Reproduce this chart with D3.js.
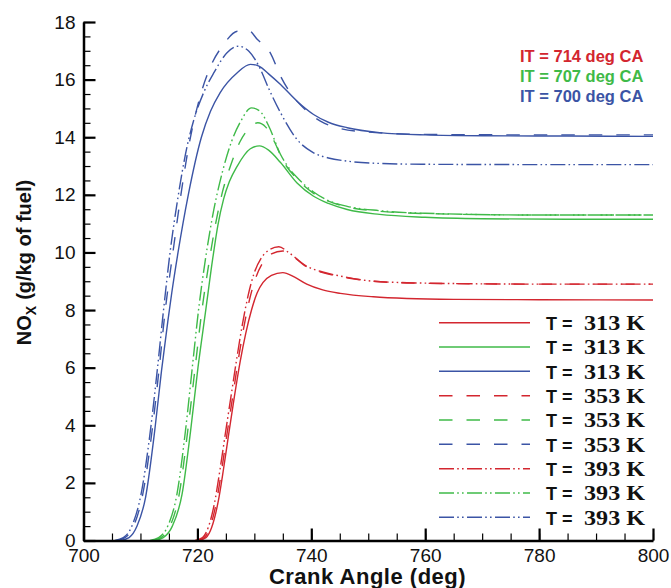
<!DOCTYPE html>
<html>
<head>
<meta charset="utf-8">
<script src="https://cdn.jsdelivr.net/npm/d3@7"></script>
<style>
  html, body { margin: 0; padding: 0; background: #fff; }
  svg { display: block; }
</style>
</head>
<body>
<svg id="chart" width="671" height="588"></svg>
<script>
// ---------- data (crank angle [deg], NOx [g/kg of fuel]) ----------
// IT = 714 deg CA (red)
const red313x = [720.2,721.5,722.5,723.7,724.6,725.5,726.5,727.5,728.5,729.5,730.5,731.5,733,735,737,739.2,742,745.1,750.9,756.8,765,780,800];
const red313y = [0,0.1,0.45,1.4,2.5,3.7,5.0,6.2,7.2,8.0,8.6,8.95,9.2,9.3,9.15,8.9,8.7,8.58,8.46,8.4,8.37,8.36,8.35];
const red353x = [719.9,721.2,722.2,723.4,724.3,725.2,726.2,727.2,728.2,729.2,730.3,731.5,733,735,736.5,739.2,742,745.1,750.9,756.8,765,780,800];
const red353y = [0,0.1,0.45,1.4,2.5,3.7,5.0,6.3,7.45,8.4,9.15,9.65,9.95,10.05,9.9,9.5,9.3,9.16,9.0,8.94,8.92,8.9,8.9];
const red393x = [719.6,720.9,721.9,723.1,724,724.9,725.9,726.9,727.9,728.9,730,731.2,732.7,734.3,736,739.2,742,745.1,750.9,756.8,765,780,800];
const red393y = [0,0.1,0.45,1.4,2.5,3.7,5.0,6.3,7.5,8.5,9.3,9.8,10.1,10.2,10.0,9.52,9.32,9.18,9.0,8.95,8.92,8.9,8.9];
// IT = 707 deg CA (green)
const green313x = [712.5,714,715.6,717.3,718.8,720.1,721.4,722.7,723.6,724.6,725.6,727,729.3,730.9,732.5,734.6,737.5,740.4,743,746.3,752,760,770,785,800];
const green313y = [0,0.1,0.5,1.6,3.8,6.0,7.9,9.8,10.95,11.85,12.45,13.0,13.6,13.7,13.55,13.12,12.41,11.95,11.7,11.49,11.32,11.22,11.17,11.15,11.15];
const green353x = [712.1,713.6,715.2,716.8,718.3,719.6,720.8,722,723.2,724.4,725.8,727.5,729.3,730.6,732,733.5,735,737.5,740.4,743,746.3,752,760,780,800];
const green353y = [0,0.1,0.5,1.6,3.8,6.0,8.0,9.6,11.0,12.1,13.0,13.85,14.35,14.5,14.35,13.85,13.2,12.55,12.05,11.78,11.58,11.43,11.35,11.3,11.3];
const green393x = [711.7,713.2,714.8,716.4,717.9,719.1,720.2,721.4,722.9,724.4,726,727.6,729.5,731,732.5,734.6,736,737.5,740.4,743,746.3,752,760,780,800];
const green393y = [0,0.1,0.5,1.6,3.8,6.0,8.0,9.75,11.5,12.8,13.85,14.55,15.02,14.9,14.4,13.4,12.95,12.6,12.1,11.8,11.6,11.45,11.36,11.3,11.3];
// IT = 700 deg CA (blue)
const blue313x = [706.5,708,709.4,710.9,712.5,713.7,714.8,715.5,716.6,718.4,720.7,722.3,724,727,729.3,730.8,732.5,734.6,737.5,740.4,743,746.3,752,760,770,785,800];
const blue313y = [0,0.1,0.5,1.5,3.8,5.9,7.6,8.6,10.0,12.0,14.0,14.9,15.55,16.24,16.53,16.47,16.2,15.83,15.25,14.79,14.52,14.33,14.16,14.08,14.05,14.04,14.03];
const blue353x = [705.8,707.3,708.8,710.4,712.1,713.3,714.3,715.7,717.1,718.4,720.5,722.3,724.6,727,729,730.5,732.8,734.6,736.3,738.6,741.6,744.5,749.8,760,780,800];
const blue353y = [0,0.1,0.5,1.6,3.9,6.0,7.9,10.0,12.0,13.6,15.43,16.45,17.22,17.68,17.7,17.4,16.93,16.12,15.55,15.02,14.56,14.33,14.18,14.1,14.08,14.08];
const blue393x = [705.5,707,708.5,710.1,711.8,713,714,715.2,716.5,718.2,719.4,721.1,722.9,725.2,727.2,729,730.8,732.5,734.6,737.5,740.4,743,746.3,752,760,780,800];
const blue393y = [0,0.1,0.5,1.6,3.9,6.0,7.9,10.0,11.8,13.69,14.62,15.55,16.24,16.93,17.16,16.99,16.47,15.7,14.85,13.92,13.46,13.28,13.17,13.09,13.06,13.05,13.05];

const xTicks = [700, 720, 740, 760, 780, 800];
const yTicks = [0, 2, 4, 6, 8, 10, 12, 14, 16, 18];
const injectionTimings = ["IT = 714 deg CA", "IT = 707 deg CA", "IT = 700 deg CA"];
const legendLabels = ["313 K", "313 K", "313 K", "353 K", "353 K", "353 K", "393 K", "393 K", "393 K"];

(function () {
// ---------- styles ----------
const COLORS = { red: "#d3262f", green: "#3fba48", blue: "#3b54a5" };
const DASH = { solid: null, dashed: "13.5,14", dashdot: "15,3.2,1.6,3.2,1.6,3.4" };

const series = [
  { x: red313x,   y: red313y,   color: COLORS.red,   dash: DASH.solid },
  { x: green313x, y: green313y, color: COLORS.green, dash: DASH.solid },
  { x: blue313x,  y: blue313y,  color: COLORS.blue,  dash: DASH.solid },
  { x: red353x,   y: red353y,   color: COLORS.red,   dash: DASH.dashed },
  { x: green353x, y: green353y, color: COLORS.green, dash: DASH.dashed },
  { x: blue353x,  y: blue353y,  color: COLORS.blue,  dash: DASH.dashed },
  { x: red393x,   y: red393y,   color: COLORS.red,   dash: DASH.dashdot },
  { x: green393x, y: green393y, color: COLORS.green, dash: DASH.dashdot },
  { x: blue393x,  y: blue393y,  color: COLORS.blue,  dash: DASH.dashdot }
];

const svg = d3.select("#chart");
const mLeft = 83.5, mRight = 653, mTop = 22, mBottom = 540.5;

const x = d3.scaleLinear().domain([700, 800]).range([mLeft, mRight]);
const y = d3.scaleLinear().domain([0, 18]).range([mBottom, mTop]);

// ---------- curves ----------
const line = d3.line()
  .x(d => x(d[0])).y(d => y(d[1]))
  .curve(d3.curveMonotoneX);

const curves = svg.append("g");
series.forEach(s => {
  const pts = s.x.map((v, i) => [v, s.y[i]]);
  curves.append("path")
    .attr("d", line(pts))
    .attr("fill", "none")
    .attr("stroke", s.color)
    .attr("stroke-width", 1.4)
    .attr("stroke-dasharray", s.dash);
});

// ---------- axes ----------
const tickFont = "'Liberation Sans', Arial, sans-serif";

// minor ticks
svg.append("g").attr("transform", `translate(0,${mBottom})`)
  .call(d3.axisBottom(x).tickValues(d3.range(700, 801, 5)).tickSizeInner(-7).tickSizeOuter(0).tickFormat(""))
  .call(g => g.select(".domain").remove())
  .call(g => g.selectAll("line").attr("stroke", "#000").attr("stroke-width", 1.2));
svg.append("g").attr("transform", `translate(${mLeft},0)`)
  .call(d3.axisLeft(y).tickValues(d3.range(0, 18.01, 0.5)).tickSizeInner(-7).tickSizeOuter(0).tickFormat(""))
  .call(g => g.select(".domain").remove())
  .call(g => g.selectAll("line").attr("stroke", "#000").attr("stroke-width", 1.2));

// major ticks + labels
const xAxis = svg.append("g").attr("transform", `translate(0,${mBottom})`)
  .call(d3.axisBottom(x).tickValues(xTicks).tickSizeInner(-12).tickSizeOuter(0).tickPadding(8).tickFormat(d3.format("d")));
xAxis.select(".domain").attr("stroke", "#000").attr("stroke-width", 2.5);
xAxis.selectAll("line").attr("stroke", "#000").attr("stroke-width", 2.2);
xAxis.selectAll("text").attr("font-family", tickFont).attr("font-size", 19).attr("fill", "#111");

const yAxis = svg.append("g").attr("transform", `translate(${mLeft},0)`)
  .call(d3.axisLeft(y).tickValues(yTicks).tickSizeInner(-12).tickSizeOuter(0).tickPadding(8).tickFormat(d3.format("d")));
yAxis.select(".domain").attr("stroke", "#000").attr("stroke-width", 2.5);
yAxis.selectAll("line").attr("stroke", "#000").attr("stroke-width", 2.2);
yAxis.selectAll("text").attr("font-family", tickFont).attr("font-size", 19).attr("fill", "#111");

// ---------- axis titles ----------
svg.append("text")
  .attr("x", 367.5).attr("y", 584)
  .attr("text-anchor", "middle")
  .attr("font-family", tickFont).attr("font-weight", "bold").attr("font-size", 22)
  .attr("letter-spacing", 0.5)
  .attr("fill", "#111")
  .text("Crank Angle (deg)");

const yt = svg.append("text")
  .attr("transform", "translate(31,262.5) rotate(-90)")
  .attr("text-anchor", "middle")
  .attr("font-family", tickFont).attr("font-weight", "bold").attr("font-size", 20)
  .attr("fill", "#111");
yt.append("tspan").text("NO");
yt.append("tspan").attr("font-size", 14).attr("dy", 5).text("X");
yt.append("tspan").attr("dy", -5).attr("dx", 6).text("(g/kg of fuel)");

// ---------- IT annotations ----------
const itColors = [COLORS.red, COLORS.green, COLORS.blue];
injectionTimings.forEach((t, i) => {
  svg.append("text")
    .attr("x", 520).attr("y", 61.7 + i * 20.3)
    .attr("font-family", tickFont).attr("font-weight", "bold").attr("font-size", 16.5)
    .attr("fill", itColors[i])
    .text(t);
});

// ---------- legend ----------
const lg = svg.append("g");
series.forEach((s, i) => {
  const ly = 322.7 + i * 24.33;
  lg.append("line")
    .attr("x1", 439).attr("x2", 530).attr("y1", ly).attr("y2", ly)
    .attr("stroke", s.color).attr("stroke-width", 1.5)
    .attr("stroke-dasharray", s.dash);
  lg.append("text")
    .attr("x", 546).attr("y", ly + 7.3)
    .attr("font-family", tickFont).attr("font-weight", "bold").attr("font-size", 18)
    .attr("fill", "#111")
    .text("T =");
  lg.append("text")
    .attr("x", 584).attr("y", ly + 7.3)
    .attr("font-family", "'Liberation Serif', 'Times New Roman', serif").attr("font-weight", "bold").attr("font-size", 20)
    .attr("textLength", 61).attr("lengthAdjust", "spacingAndGlyphs")
    .attr("fill", "#111")
    .text(legendLabels[i]);
});
})();
</script>
</body>
</html>
